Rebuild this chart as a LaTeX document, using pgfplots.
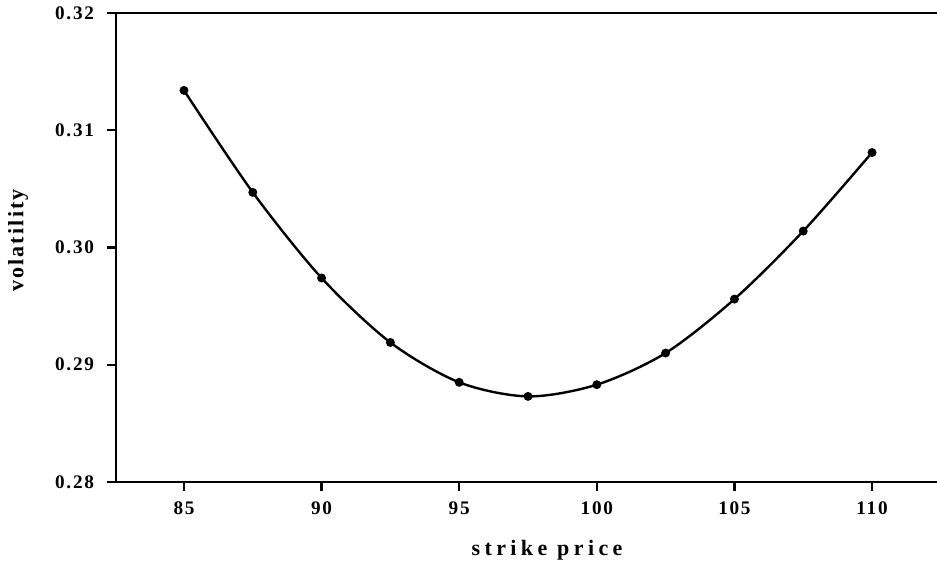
\documentclass[border=0pt]{standalone}
\usepackage{fontspec}
\setmainfont{Liberation Serif}
\newfontfamily\lblfont[LetterSpace=20]{Liberation Serif}
\newfontfamily\ylblfont[LetterSpace=10]{Liberation Serif}
\newfontfamily\tickfont[LetterSpace=9]{Liberation Serif}
\usepackage{pgfplots}
\pgfplotsset{compat=1.18}
\begin{document}
\begin{tikzpicture}
\begin{axis}[
  scale only axis, width=410.5pt, height=234.5pt,
  xmin=82.53, xmax=112.36, ymin=0.28, ymax=0.32,
  axis x line*=box, axis y line*=left,
  axis line style={line width=1.2pt},
  xtick={85,90,95,100,105,110},
  ytick={0.28,0.29,0.30,0.31,0.32},
  xtick pos=lower, ytick pos=left,
  tick align=outside, major tick length=4.5pt,
  tick style={line width=1.1pt, black},
  /pgf/number format/assume math mode=true,
  yticklabel style={/pgf/number format/fixed, /pgf/number format/precision=2, /pgf/number format/fixed zerofill, xshift=-3pt},
  xticklabel style={yshift=-2pt},
  ticklabel style={font=\tickfont\bfseries\fontsize{9.6}{11}\selectfont},
  xlabel={strike price}, ylabel={volatility},
  xlabel style={font=\lblfont\bfseries\fontsize{11}{13}\selectfont, at={(rel axis cs:0.525,0)}, anchor=center, yshift=-34pt},
  ylabel style={font=\ylblfont\bfseries\fontsize{11}{13}\selectfont, at={(rel axis cs:0,0.515)}, anchor=center, rotate=0, yshift=49pt},
  clip=false,
]
\addplot[black, line width=1.2pt, smooth, mark=*, mark size=1.6pt] coordinates {
  (85,0.3134) (87.5,0.3047) (90,0.2974) (92.5,0.2919) (95,0.2885) (97.5,0.2873)
  (100,0.2883) (102.5,0.2910) (105,0.2956) (107.5,0.3014) (110,0.3081)
};
\coordinate (sw) at (rel axis cs:0,0);
\coordinate (ne) at (rel axis cs:1,1);
\end{axis}
\pgfresetboundingbox
\path[use as bounding box] ([xshift=-58pt,yshift=-40pt]sw) rectangle ([yshift=6.5pt]ne);
\end{tikzpicture}
\end{document}
